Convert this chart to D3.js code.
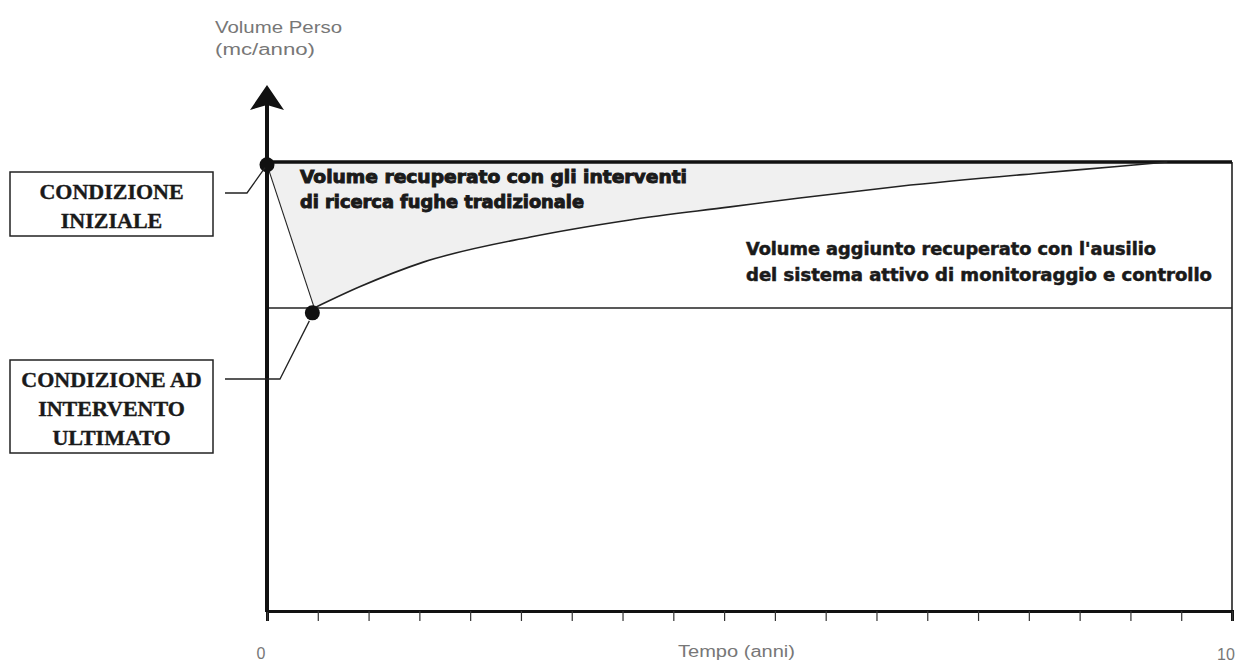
<!DOCTYPE html>
<html>
<head>
<meta charset="utf-8">
<script src="https://cdnjs.cloudflare.com/ajax/libs/d3/7.8.5/d3.min.js"></script>
<style>
  body { margin: 0; background: #fff; }
  svg { display: block; }
</style>
</head>
<body>
<div id="chart"></div>
<script>
// data (x = years, y = lost volume, % of initial)
var timeYears  = [0.49, 0.96, 1.62, 2.73, 3.76, 4.8, 5.52, 6.56, 7.94, 8.81, 9.33];
var lostVolume = [67.5, 72.2, 77.7, 83.3, 87.1, 90.0, 92.0, 94.6, 97.4, 99.0, 100];
var initialLevel = 100;      // volume before the intervention
var afterLevel = 67.5;       // level right after the intervention
var initialPoint = [0, 99.4];
var finalPoint = [0.47, 66.4];
var xLabels = ["0", "10"];
var boxInitial = ["CONDIZIONE", "INIZIALE"];
var boxFinal = ["CONDIZIONE AD", "INTERVENTO", "ULTIMATO"];
var noteTraditional = ["Volume recuperato con gli interventi", "di ricerca fughe tradizionale"];
var noteActive = ["Volume aggiunto recuperato con l'ausilio", "del sistema attivo di monitoraggio e controllo"];

var width = 1237, height = 664;

var svg = d3.select("#chart").append("svg")
    .attr("width", width)
    .attr("height", height);

// scales
var x = d3.scaleLinear().domain([0, 10]).range([267, 1232]);
var y = d3.scaleLinear().domain([0, 100]).range([611, 162]);

var curve = timeYears.map(function(t, i) { return [t, lostVolume[i]]; });
var curveLine = d3.line()
    .x(function(d) { return x(d[0]); })
    .y(function(d) { return y(d[1]); })
    .curve(d3.curveMonotoneX);

// shaded area between the top level, the drop and the curve
var lastT = timeYears[timeYears.length - 1];
svg.append("path")
    .attr("d", "M" + x(0) + "," + y(initialLevel) +
               "L" + x(lastT) + "," + y(initialLevel) +
               curveLine(curve.slice().reverse()).replace(/^M/, "L") +
               "L" + x(initialPoint[0]) + "," + y(initialPoint[1]) + "Z")
    .attr("fill", "#f0f0f0");

// horizontal level after the intervention
svg.append("line")
    .attr("x1", x(0)).attr("x2", x(10))
    .attr("y1", y(afterLevel)).attr("y2", y(afterLevel))
    .attr("stroke", "#222").attr("stroke-width", 1.6);

// right edge
svg.append("line")
    .attr("x1", x(10)).attr("x2", x(10))
    .attr("y1", y(initialLevel)).attr("y2", y(0))
    .attr("stroke", "#222").attr("stroke-width", 1.6);

// top level line
svg.append("line")
    .attr("x1", x(0)).attr("x2", x(10))
    .attr("y1", y(initialLevel)).attr("y2", y(initialLevel))
    .attr("stroke", "#111").attr("stroke-width", 3.5);

// drop from initial to final condition
svg.append("line")
    .attr("x1", x(initialPoint[0])).attr("y1", y(initialPoint[1]))
    .attr("x2", x(timeYears[0])).attr("y2", y(lostVolume[0]))
    .attr("stroke", "#222").attr("stroke-width", 1.1);

// recovery curve
svg.append("path")
    .datum(curve)
    .attr("d", curveLine)
    .attr("fill", "none")
    .attr("stroke", "#222")
    .attr("stroke-width", 1.6);

// x axis
var tickVals = d3.range(20).map(function(i) { return i * 10 / 19; });
var xAxis = svg.append("g")
    .attr("transform", "translate(0," + y(0) + ")")
    .call(d3.axisBottom(x).tickValues(tickVals).tickSize(10).tickFormat(""));
xAxis.select(".domain").attr("stroke", "#111").attr("stroke-width", 3);
xAxis.selectAll(".tick line").attr("stroke", "#333").attr("stroke-width", 1.2);

// y axis with arrow
svg.append("line")
    .attr("x1", x(0)).attr("x2", x(0))
    .attr("y1", y(0) + 1).attr("y2", 104)
    .attr("stroke", "#111").attr("stroke-width", 4);
svg.append("path")
    .attr("d", "M" + x(0) + ",85 L" + (x(0) + 17) + ",110 L" + x(0) + ",105 L" + (x(0) - 17) + ",110 Z")
    .attr("fill", "#111");

// points
svg.selectAll(".pt")
    .data([initialPoint, finalPoint])
  .enter().append("circle")
    .attr("class", "pt")
    .attr("cx", function(d) { return x(d[0]); })
    .attr("cy", function(d) { return y(d[1]); })
    .attr("r", 7.5)
    .attr("fill", "#111");

// leader lines to the boxes
svg.append("path")
    .attr("d", "M225,193 L247,193 L" + (x(initialPoint[0]) - 2) + "," + (y(initialPoint[1]) + 3))
    .attr("fill", "none").attr("stroke", "#222").attr("stroke-width", 1.3);
svg.append("path")
    .attr("d", "M225,379 L280,379 L" + (x(finalPoint[0]) - 3) + "," + (y(finalPoint[1]) + 8))
    .attr("fill", "none").attr("stroke", "#222").attr("stroke-width", 1.3);

// boxes
function drawBox(lines, top, h, lineGap, firstBase) {
  svg.append("rect")
      .attr("x", 10).attr("y", top)
      .attr("width", 203).attr("height", h)
      .attr("fill", "#fff").attr("stroke", "#222").attr("stroke-width", 1.5);
  svg.append("text")
      .attr("font-family", "'Liberation Serif', 'Times New Roman', serif")
      .attr("font-weight", "bold")
      .attr("font-size", 22)
      .attr("fill", "#1a1a1a")
      .attr("stroke", "#1a1a1a").attr("stroke-width", 0.4)
      .attr("text-anchor", "middle")
    .selectAll("tspan")
      .data(lines)
    .enter().append("tspan")
      .attr("x", 111.5)
      .attr("y", function(d, i) { return firstBase + i * lineGap; })
      .text(function(d) { return d; });
}
drawBox(boxInitial, 172, 64, 29, 199);
drawBox(boxFinal, 360, 93, 29, 387);

// notes
function drawNote(lines, x0, bases, lengths, size, heavy) {
  svg.append("g").selectAll("text")
      .data(lines)
    .enter().append("text")
      .attr("x", x0)
      .attr("y", function(d, i) { return bases[i]; })
      .attr("font-family", "'DejaVu Sans Condensed', 'DejaVu Sans', sans-serif")
      .attr("font-weight", "bold")
      .attr("font-size", size)
      .attr("fill", "#1a1a1a")
      .attr("stroke", "#1a1a1a").attr("stroke-width", heavy)
      .attr("textLength", function(d, i) { return lengths[i]; })
      .attr("lengthAdjust", "spacingAndGlyphs")
      .text(function(d) { return d; });
}
drawNote(noteTraditional, 300, [183, 208], [387, 284], 18, 0.9);
drawNote(noteActive, 746, [255, 281], [410, 466], 17, 0.5);

// axis titles
var faint = "#777";
svg.append("text")
    .attr("x", 215).attr("y", 33)
    .attr("font-family", "'Liberation Sans', Arial, sans-serif")
    .attr("font-size", 16).attr("fill", faint)
    .attr("textLength", 127).attr("lengthAdjust", "spacingAndGlyphs")
    .text("Volume Perso");
svg.append("text")
    .attr("x", 215).attr("y", 55)
    .attr("font-family", "'Liberation Sans', Arial, sans-serif")
    .attr("font-size", 16).attr("fill", faint)
    .attr("textLength", 100).attr("lengthAdjust", "spacingAndGlyphs")
    .text("(mc/anno)");
svg.append("text")
    .attr("x", 678).attr("y", 657)
    .attr("font-family", "'Liberation Sans', Arial, sans-serif")
    .attr("font-size", 16).attr("fill", faint)
    .attr("textLength", 117).attr("lengthAdjust", "spacingAndGlyphs")
    .text("Tempo (anni)");

svg.selectAll(".xlab")
    .data(xLabels)
  .enter().append("text")
    .attr("class", "xlab")
    .attr("x", function(d) { return x(+d) - 6; })
    .attr("y", function(d, i) { return i ? 660 : 659; })
    .attr("text-anchor", "middle")
    .attr("font-family", "'Liberation Sans', Arial, sans-serif")
    .attr("font-size", 16).attr("fill", faint)
    .text(function(d) { return d; });
</script>
</body>
</html>
